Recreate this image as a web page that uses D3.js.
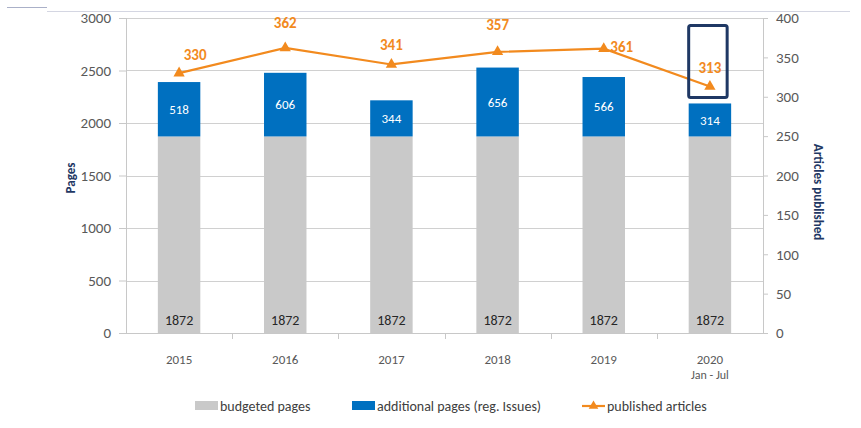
<!DOCTYPE html>
<html>
<head>
<meta charset="utf-8">
<script src="https://cdn.jsdelivr.net/npm/d3@7"></script>
<style>
  body { margin: 0; background: #fff; }
  svg text { font-family: Carlito, Lato, "Open Sans", sans-serif; }
</style>
</head>
<body>
<div id="chart"></div>
<script>
// chart data
var years = ["2015", "2016", "2017", "2018", "2019", "2020"];
var yearNotes = ["", "", "", "", "", "Jan - Jul"];
var budgetedPages = [1872, 1872, 1872, 1872, 1872, 1872];
var additionalPages = [518, 606, 344, 656, 566, 314];
var publishedArticles = [330, 362, 341, 357, 361, 313];
var pageTicks = [0, 500, 1000, 1500, 2000, 2500, 3000];
var articleTicks = [0, 50, 100, 150, 200, 250, 300, 350, 400];

var W = 861, H = 428;
var margin = {top: 18, right: 98, bottom: 95, left: 126};
var width = W - margin.left - margin.right,
    height = H - margin.top - margin.bottom;

var svg = d3.select("#chart").append("svg")
    .attr("width", W)
    .attr("height", H);

// thin header rule at the very top
svg.append("line").attr("x1", 7).attr("x2", 47).attr("y1", 7.5).attr("y2", 7.5)
    .attr("stroke", "#aab0c8").attr("stroke-width", 1);
svg.append("line").attr("x1", 47).attr("x2", 850).attr("y1", 11.5).attr("y2", 11.5)
    .attr("stroke", "#d4d6e2").attr("stroke-width", 1);

var g = svg.append("g")
    .attr("transform", "translate(" + margin.left + "," + margin.top + ")");

var x = d3.scaleBand().domain(years).range([0, width]).paddingInner(0.6).paddingOuter(0.3);
var xEdge = d3.scaleBand().domain(years).range([0, width]);
var y = d3.scaleLinear().domain([0, 3000]).range([height, 0]);
var y2 = d3.scaleLinear().domain([0, 400]).range([height, 0]);

// gridlines
g.append("g").selectAll("line")
    .data(pageTicks.slice(1))
    .enter().append("line")
    .attr("x1", 0).attr("x2", width)
    .attr("y1", function(d) { return Math.round(y(d)) + 0.5; })
    .attr("y2", function(d) { return Math.round(y(d)) + 0.5; })
    .attr("stroke", "#d0d0d0");

// bars
g.selectAll(".bar-budget")
    .data(years)
    .enter().append("rect")
    .attr("class", "bar-budget")
    .attr("x", function(d) { return x(d); })
    .attr("width", x.bandwidth())
    .attr("y", function(d, i) { return y(budgetedPages[i]); })
    .attr("height", function(d, i) { return height - y(budgetedPages[i]); })
    .attr("fill", "#c9c9c9");

g.selectAll(".bar-add")
    .data(years)
    .enter().append("rect")
    .attr("class", "bar-add")
    .attr("x", function(d) { return x(d); })
    .attr("width", x.bandwidth())
    .attr("y", function(d, i) { return y(budgetedPages[i] + additionalPages[i]); })
    .attr("height", function(d, i) { return y(budgetedPages[i]) - y(budgetedPages[i] + additionalPages[i]); })
    .attr("fill", "#0070c0");

// bar labels
g.selectAll(".lbl-budget")
    .data(years)
    .enter().append("text")
    .attr("x", function(d) { return x(d) + x.bandwidth() / 2; })
    .attr("y", height - 8)
    .attr("text-anchor", "middle")
    .attr("font-size", 14)
    .attr("fill", "#262626")
    .text(function(d, i) { return budgetedPages[i]; });

g.selectAll(".lbl-add")
    .data(years)
    .enter().append("text")
    .attr("x", function(d) { return x(d) + x.bandwidth() / 2; })
    .attr("y", function(d, i) { return y(budgetedPages[i] + additionalPages[i] / 2); })
    .attr("dy", "0.35em")
    .attr("text-anchor", "middle")
    .attr("font-size", 13)
    .attr("fill", "#ffffff")
    .text(function(d, i) { return additionalPages[i]; });

// axes lines
g.append("line").attr("x1", 0.5).attr("x2", 0.5).attr("y1", 0).attr("y2", height)
    .attr("stroke", "#c8c8c8");
g.append("line").attr("x1", width + 0.5).attr("x2", width + 0.5).attr("y1", 0).attr("y2", height)
    .attr("stroke", "#c8c8c8");
g.append("line").attr("x1", 0).attr("x2", width).attr("y1", height + 0.5).attr("y2", height + 0.5)
    .attr("stroke", "#c8c8c8");

// left axis
var left = g.append("g").call(d3.axisLeft(y).tickValues(pageTicks).tickFormat(d3.format("d"))
    .tickSize(7).tickPadding(8));
left.select(".domain").remove();
left.selectAll("line").attr("stroke", "#c8c8c8");
left.selectAll("text").attr("font-size", 15).attr("fill", "#595959");

// right axis
var right = g.append("g").attr("transform", "translate(" + width + ",0)")
    .call(d3.axisRight(y2).tickValues(articleTicks).tickFormat(d3.format("d"))
    .tickSize(5).tickPadding(8));
right.select(".domain").remove();
right.selectAll("line").attr("stroke", "#c8c8c8");
right.selectAll("text").attr("font-size", 15).attr("fill", "#595959");

// x ticks at category edges
g.append("g").selectAll("line")
    .data(years.slice(1))
    .enter().append("line")
    .attr("x1", function(d) { return Math.round(xEdge(d)) + 0.5; })
    .attr("x2", function(d) { return Math.round(xEdge(d)) + 0.5; })
    .attr("y1", height).attr("y2", height + 6)
    .attr("stroke", "#c8c8c8");

g.append("g").selectAll("text")
    .data(years)
    .enter().append("text")
    .attr("x", function(d) { return x(d) + x.bandwidth() / 2; })
    .attr("y", height + 31)
    .attr("text-anchor", "middle")
    .attr("font-size", 13)
    .attr("fill", "#595959")
    .text(function(d) { return d; });

g.append("g").selectAll("text")
    .data(years)
    .enter().append("text")
    .attr("x", function(d) { return x(d) + x.bandwidth() / 2; })
    .attr("y", height + 46)
    .attr("text-anchor", "middle")
    .attr("font-size", 12)
    .attr("fill", "#595959")
    .text(function(d, i) { return yearNotes[i]; });

// axis titles
svg.append("text")
    .attr("transform", "translate(75," + (margin.top + 160) + ") rotate(-90)")
    .attr("text-anchor", "middle")
    .attr("font-size", 13)
    .attr("font-weight", "bold")
    .attr("fill", "#1f3864")
    .text("Pages");

svg.append("text")
    .attr("transform", "translate(814," + (margin.top + 174) + ") rotate(90)")
    .attr("text-anchor", "middle")
    .attr("font-size", 13)
    .attr("font-weight", "bold")
    .attr("fill", "#1f3864")
    .text("Articles published");

// articles line
var orange = "#f28a1e";
var line = d3.line()
    .x(function(d, i) { return x(years[i]) + x.bandwidth() / 2; })
    .y(function(d) { return y2(d); });

g.append("path")
    .datum(publishedArticles)
    .attr("d", line)
    .attr("fill", "none")
    .attr("stroke", orange)
    .attr("stroke-width", 2.2);

var tri = d3.symbol().type(d3.symbolTriangle).size(55);
g.selectAll(".pt")
    .data(publishedArticles)
    .enter().append("path")
    .attr("transform", function(d, i) {
        return "translate(" + (x(years[i]) + x.bandwidth() / 2) + "," + y2(d) + ")";
    })
    .attr("d", tri)
    .attr("fill", orange);

var labelDx = [16, 0, 0, 0, 18, 0];
var labelDy = [-13, -20, -14, -22, 3, -14];
g.selectAll(".pt-lbl")
    .data(publishedArticles)
    .enter().append("text")
    .attr("x", function(d, i) { return x(years[i]) + x.bandwidth() / 2 + labelDx[i]; })
    .attr("y", function(d, i) { return y2(d) + labelDy[i]; })
    .attr("text-anchor", "middle")
    .attr("font-size", 15)
    .attr("font-weight", "bold")
    .attr("fill", orange)
    .text(function(d) { return d; });

// highlight box around the 2020 point
var last = years[years.length - 1];
g.append("rect")
    .attr("x", x(last))
    .attr("y", y2(publishedArticles[5]) - 61)
    .attr("width", x.bandwidth() - 4)
    .attr("height", 72)
    .attr("fill", "none")
    .attr("stroke", "#1f3864")
    .attr("stroke-width", 3)
    .attr("rx", 2);

// legend
var legendData = [
    {name: "budgeted pages", type: "rect", color: "#c9c9c9", x: 195},
    {name: "additional pages (reg. Issues)", type: "rect", color: "#0070c0", x: 352},
    {name: "published articles", type: "line", color: orange, x: 582}
];
var lg = svg.append("g").attr("transform", "translate(0,406)");
var keys = lg.selectAll(".key")
    .data(legendData)
    .enter().append("g")
    .attr("transform", function(d) { return "translate(" + d.x + ",0)"; });

keys.filter(function(d) { return d.type === "rect"; })
    .append("rect")
    .attr("x", 0).attr("y", -5).attr("width", 23).attr("height", 9)
    .attr("fill", function(d) { return d.color; });

var lk = keys.filter(function(d) { return d.type === "line"; });
lk.append("line").attr("x1", 0).attr("x2", 23).attr("y1", 0).attr("y2", 0)
    .attr("stroke", orange).attr("stroke-width", 2.2);
lk.append("path").attr("transform", "translate(11.5,0)")
    .attr("d", d3.symbol().type(d3.symbolTriangle).size(40)).attr("fill", orange);

keys.append("text")
    .attr("x", 25).attr("y", 0).attr("dy", "0.35em")
    .attr("font-size", 14)
    .attr("fill", "#404040")
    .text(function(d) { return d.name; });
</script>
</body>
</html>
